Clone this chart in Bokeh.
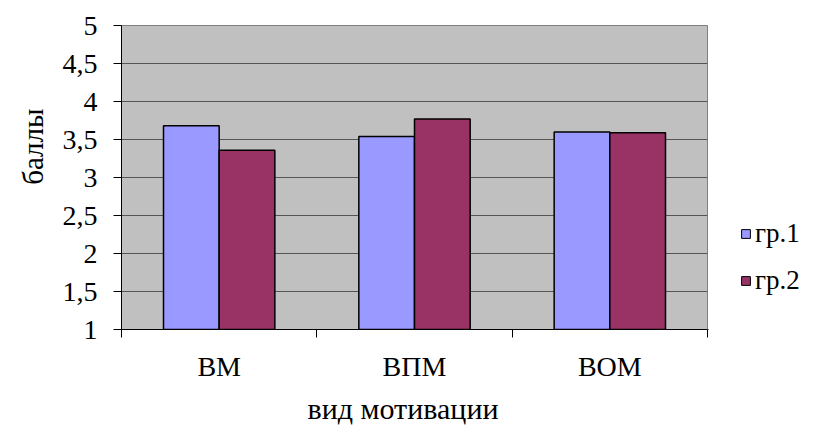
from bokeh.plotting import figure
from bokeh.layouts import row
from bokeh.models import FixedTicker, Legend, LegendItem, Range1d, ColumnDataSource, Title
from bokeh.embed import file_html
from bokeh.resources import INLINE

# Mean scores (баллы) by type of motivation for the two groups
categories = ["ВМ", "ВПМ", "ВОМ"]
gr1 = [3.68, 3.54, 3.60]
gr2 = [3.36, 3.77, 3.59]
series_names = ["гр.1", "гр.2"]
series_colors = ["#9999FF", "#993366"]
y_ticks = [1, 1.5, 2, 2.5, 3, 3.5, 4, 4.5, 5]

FONT = "Liberation Serif"
BAR_W = 0.285

centers = [i + 0.5 for i in range(len(categories))]
src = ColumnDataSource(dict(
    x1=[c - BAR_W / 2 for c in centers],
    x2=[c + BAR_W / 2 for c in centers],
    gr1=gr1,
    gr2=gr2,
))

p = figure(width=708, height=434, output_backend="svg", toolbar_location=None,
           x_range=Range1d(0, len(categories)), y_range=Range1d(1, 5),
           min_border_left=121, min_border_right=1,
           min_border_top=25, min_border_bottom=105)

p.background_fill_color = "#C0C0C0"
p.border_fill_color = "white"
p.outline_line_color = "#808080"
p.outline_line_width = 1

p.vbar(x="x1", top="gr1", bottom=1, width=BAR_W, source=src,
       fill_color=series_colors[0], line_color="black", line_width=1.5)
p.vbar(x="x2", top="gr2", bottom=1, width=BAR_W, source=src,
       fill_color=series_colors[1], line_color="black", line_width=1.5)

# y axis: comma decimal labels
yt = FixedTicker(ticks=y_ticks)
p.yaxis.ticker = yt
p.yaxis.major_label_overrides = {t: (f"{t:g}").replace(".", ",") for t in y_ticks}
p.ygrid.ticker = yt
p.ygrid.grid_line_color = "#555555"
p.ygrid.grid_line_width = 1
p.xgrid.grid_line_color = None

p.yaxis.minor_tick_line_color = None
p.yaxis.major_tick_out = 8
p.yaxis.major_tick_in = 0
p.yaxis.major_label_standoff = 16

# x axis: category names at centres, tick marks at boundaries
xt = FixedTicker(ticks=centers, minor_ticks=list(range(len(categories) + 1)))
p.xaxis.ticker = xt
p.xaxis.major_label_overrides = {c: name for c, name in zip(centers, categories)}
p.xaxis.major_tick_line_color = None
p.xaxis.minor_tick_out = 8
p.xaxis.minor_tick_in = 0
p.xaxis.minor_tick_line_color = "black"
p.xaxis.major_label_standoff = 13

for ax in (p.xaxis, p.yaxis):
    ax.axis_line_color = "black"
    ax.axis_line_width = 1
    ax.major_label_text_font = FONT
    ax.major_label_text_font_size = "28px"
    ax.major_label_text_color = "black"
p.yaxis.major_tick_line_color = "black"

# axis titles
ytitle = Title(text="баллы", align="right", offset=83, standoff=21,
               text_font=FONT, text_font_size="29px",
               text_font_style="normal", text_color="black")
p.add_layout(ytitle, "left")
xtitle = Title(text="вид мотивации", align="left", offset=186, standoff=10,
               text_font=FONT, text_font_size="30px",
               text_font_style="normal", text_color="black")
p.add_layout(xtitle, "below")

# legend, beside the plot area; its renderers sit outside the visible range
lg = figure(width=105, height=434, output_backend="svg", toolbar_location=None,
            x_range=Range1d(0, 1), y_range=Range1d(0, 1),
            x_axis_location=None, y_axis_location=None,
            min_border=0)
lg.outline_line_color = None
lg.grid.visible = False
items = []
for name, color in zip(series_names, series_colors):
    r = lg.vbar(x=[-10], top=[-10], bottom=-11, width=0.1, fill_color=color,
                line_color="black", line_width=1)
    items.append(LegendItem(label=name, renderers=[r]))
legend = Legend(items=items, location=(32, 33))
legend.background_fill_alpha = 0
legend.border_line_alpha = 0
legend.margin = 0
legend.padding = 0
legend.glyph_width = 11
legend.glyph_height = 11
legend.label_text_font = FONT
legend.label_text_font_size = "27px"
legend.label_text_color = "black"
legend.label_standoff = 4
legend.spacing = 16
lg.add_layout(legend, "center")

layout = row(p, lg, spacing=0)
open("out.html", "w").write(file_html(layout, INLINE))
